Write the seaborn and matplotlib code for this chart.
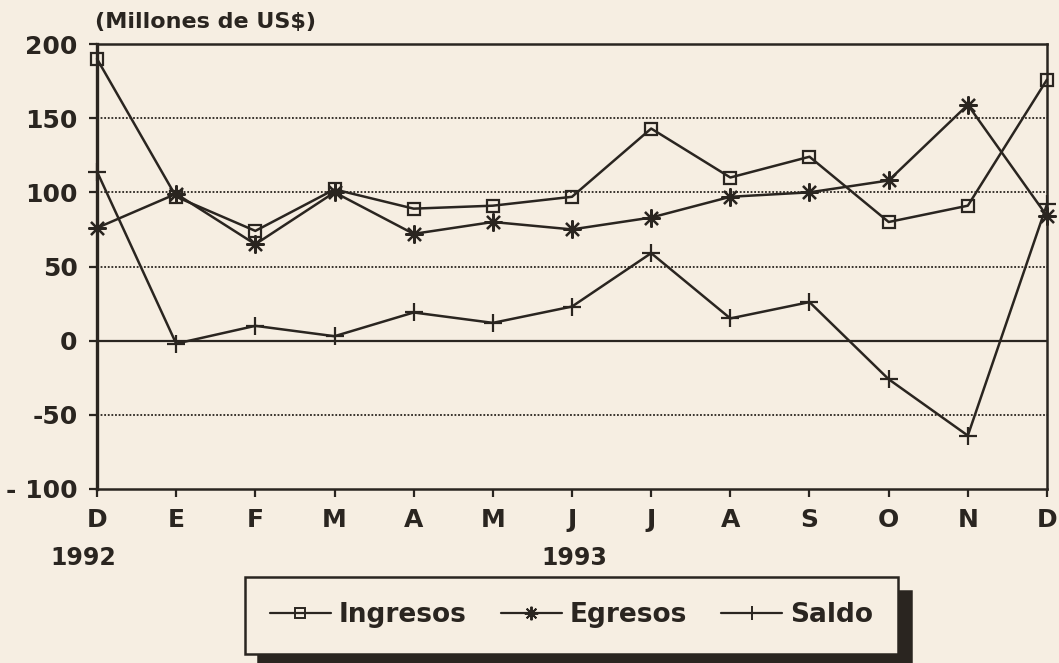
import pandas as pd
import seaborn as sns
import matplotlib.pyplot as plt
from matplotlib.lines import Line2D
from matplotlib.transforms import blended_transform_factory, offset_copy

# valores (millones de US$)
months = ["D", "E", "F", "M", "A", "M", "J", "J", "A", "S", "O", "N", "D"]
ingresos = [190, 97, 74, 102, 89, 91, 97, 143, 110, 124, 80, 91, 176]
egresos = [76, 99, 65, 100, 72, 80, 75, 83, 97, 100, 108, 159, 84]
saldo = [114, -2, 10, 3, 19, 12, 23, 59, 15, 26, -26, -64, 92]
series = ["Ingresos", "Egresos", "Saldo"]
year_pos = [0, 6]
year_labels = ["1992", "1993"]

ink = "#2a2520"
bg = "#f6eee2"

df = pd.DataFrame({
    "pos": list(range(len(months))) * 3,
    "valor": ingresos + egresos + saldo,
    "serie": [s for s in series for _ in months],
})

sns.set_style("white")
plt.rcParams["font.family"] = ["DejaVu Sans"]
plt.rcParams["font.weight"] = "bold"

fig = plt.figure(figsize=(10.59, 6.63), dpi=100, facecolor=bg)
ax = fig.add_axes([97 / 1059, 1 - 489 / 663, 950 / 1059, 445 / 663], facecolor=bg)

markers = {"Ingresos": "s", "Egresos": (8, 2, 0), "Saldo": "+"}
sizes = {"Ingresos": 9, "Egresos": 13, "Saldo": 13}

# una llamada por serie (seaborn no mezcla marcadores rellenos y de linea)
for s in series:
    sns.lineplot(data=df[df["serie"] == s], x="pos", y="valor", color=ink,
                 marker=markers[s], markersize=sizes[s], ax=ax, lw=1.8,
                 markerfacecolor="none", markeredgecolor=ink,
                 markeredgewidth=1.6, clip_on=False, zorder=3)

# grilla
for v in [150, 100, 50, -50]:
    ax.axhline(v, color=ink, lw=1.3, ls=(0, (1, 1)), zorder=1)
ax.axhline(0, color=ink, lw=1.6, zorder=1)

ax.set_xlim(0, 12)
ax.set_ylim(-100, 200)
ax.set_yticks([200, 150, 100, 50, 0, -50, -100])
ax.set_yticklabels(["200", "150", "100", "50", "0", "-50", "- 100"])
ax.set_xticks(range(len(months)))
ax.set_xticklabels(months)
ax.set_xlabel("")
ax.set_ylabel("")
ax.tick_params(axis="both", direction="out", length=6, width=1.6, color=ink,
               labelcolor=ink, labelsize=18, bottom=True, left=True)
ax.tick_params(axis="x", pad=8)
ax.tick_params(axis="y", pad=8)
for sp in ax.spines.values():
    sp.set_color(ink)
    sp.set_linewidth(1.8)
ax.spines["left"].set_linewidth(2.4)

# anos bajo el eje
tr = blended_transform_factory(ax.transData, fig.transFigure)
year_dx = [-10, 2]
for x, lab, dx in zip(year_pos, year_labels, year_dx):
    ax.text(x, 1 - 558 / 663, lab, ha="center", va="center",
            transform=offset_copy(tr, fig=fig, x=dx, y=0, units="points"),
            fontsize=17, fontweight="bold", color=ink)

fig.text(95 / 1059, 1 - 22 / 663, "(Millones de US$)", ha="left", va="center",
         fontsize=16, fontweight="bold", color=ink)

handles = [Line2D([], [], color=ink, lw=1.6, marker=markers[s],
                  markersize=sizes[s] * 0.75, markerfacecolor="none",
                  markeredgecolor=ink, markeredgewidth=1.4) for s in series]
leg = fig.legend(handles, series, ncol=3, loc="center",
                 bbox_to_anchor=(245 / 1059, 8 / 663, 653 / 1059, 79 / 663),
                 mode="expand", fontsize=19, frameon=True, fancybox=False,
                 edgecolor=ink, facecolor=bg, framealpha=1, borderpad=0.95,
                 borderaxespad=0, handlelength=2.3, handletextpad=0.3,
                 shadow={"ox": 9.5, "oy": -9.5, "color": ink, "alpha": 1})
leg.get_frame().set_linewidth(1.8)
for t in leg.get_texts():
    t.set_color(ink)

fig.savefig("out.png", dpi=100, facecolor=bg)
